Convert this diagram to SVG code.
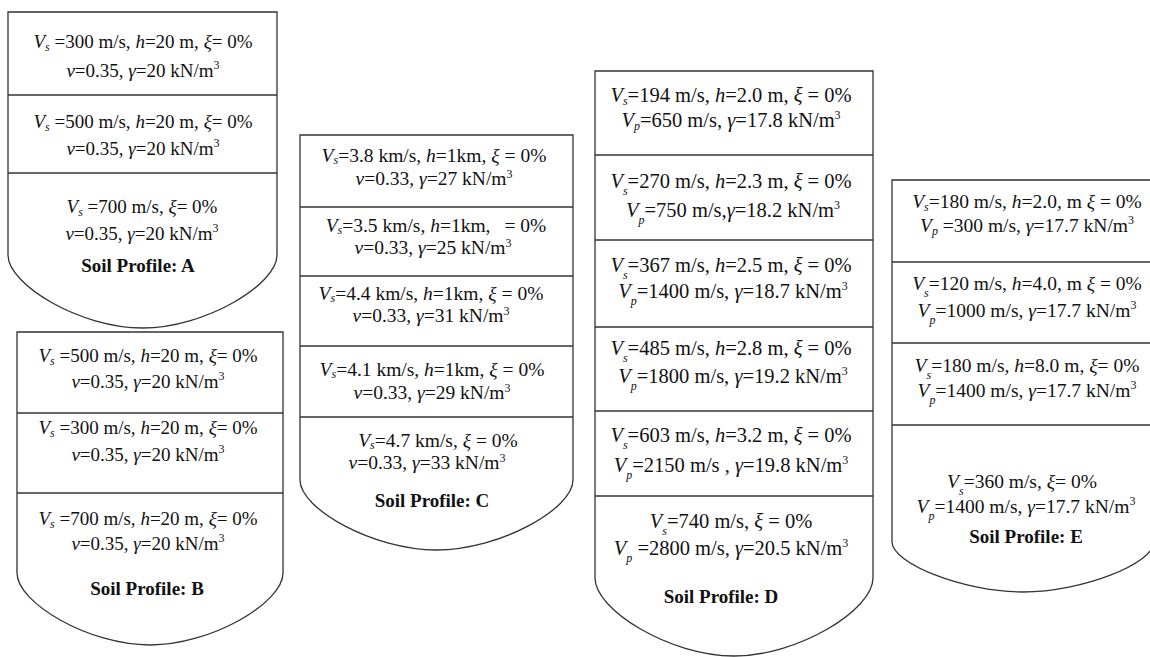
<svg xmlns="http://www.w3.org/2000/svg" width="1150" height="657" viewBox="0 0 1150 657">
<style>
.t{font-family:"Liberation Serif","Times New Roman",serif;fill:#111;text-anchor:middle}
.a{font-size:19px}.c{font-size:19.5px}.d{font-size:20.5px}.e{font-size:19.5px}
.i{font-style:italic}
.sb{font-size:12px;font-style:italic}
.sp{font-size:12px}
.lb{font-weight:bold;font-size:19px}
.box{fill:#fff;stroke:#333;stroke-width:1.3}
.dv{stroke:#333;stroke-width:1.3;fill:none}
</style>
<rect width="1150" height="657" fill="#fff"/>
<g id="connectors"/>

<g id="profile-A">
<path class="box" d="M8,12 L277,12 L277,255 C277,285 204.5,328 142.5,328 C80.5,328 8,285 8,255 Z"/>
<line class="dv" x1="8" y1="95" x2="277" y2="95"/>
<line class="dv" x1="8" y1="173" x2="277" y2="173"/>
<g id="A-layer1">
<text class="t a" x="143" y="48"><tspan class="i">V</tspan><tspan class="sb" dy="3">s</tspan><tspan dy="-3"> =300 m/s, </tspan><tspan class="i">h</tspan>=20 m, <tspan class="i">ξ</tspan>= 0%</text>
<text class="t a" x="143" y="77"><tspan class="i">ν</tspan>=0.35, <tspan class="i">γ</tspan>=20 kN/m<tspan class="sp" dy="-8">3</tspan></text>
</g>
<g id="A-layer2">
<text class="t a" x="143" y="128"><tspan class="i">V</tspan><tspan class="sb" dy="3">s</tspan><tspan dy="-3"> =500 m/s, </tspan><tspan class="i">h</tspan>=20 m, <tspan class="i">ξ</tspan>= 0%</text>
<text class="t a" x="143" y="155"><tspan class="i">ν</tspan>=0.35, <tspan class="i">γ</tspan>=20 kN/m<tspan class="sp" dy="-8">3</tspan></text>
</g>
<g id="A-layer3">
<text class="t a" x="142" y="213"><tspan class="i">V</tspan><tspan class="sb" dy="3">s</tspan><tspan dy="-3"> =700 m/s, </tspan><tspan class="i">ξ</tspan>= 0%</text>
<text class="t a" x="142" y="240"><tspan class="i">ν</tspan>=0.35, <tspan class="i">γ</tspan>=20 kN/m<tspan class="sp" dy="-8">3</tspan></text>
<text class="t lb" x="138" y="272">Soil Profile: A</text>
</g>
</g>

<g id="profile-B">
<path class="box" d="M17,332 L283,332 L283,573 C283,603 211,645 150,645 C89,645 17,603 17,573 Z"/>
<line class="dv" x1="17" y1="413" x2="283" y2="413"/>
<line class="dv" x1="17" y1="493" x2="283" y2="493"/>
<g id="B-layer1">
<text class="t a" x="148" y="362"><tspan class="i">V</tspan><tspan class="sb" dy="3">s</tspan><tspan dy="-3"> =500 m/s, </tspan><tspan class="i">h</tspan>=20 m, <tspan class="i">ξ</tspan>= 0%</text>
<text class="t a" x="148" y="388"><tspan class="i">ν</tspan>=0.35, <tspan class="i">γ</tspan>=20 kN/m<tspan class="sp" dy="-8">3</tspan></text>
</g>
<g id="B-layer2">
<text class="t a" x="148" y="434"><tspan class="i">V</tspan><tspan class="sb" dy="3">s</tspan><tspan dy="-3"> =300 m/s, </tspan><tspan class="i">h</tspan>=20 m, <tspan class="i">ξ</tspan>= 0%</text>
<text class="t a" x="148" y="461"><tspan class="i">ν</tspan>=0.35, <tspan class="i">γ</tspan>=20 kN/m<tspan class="sp" dy="-8">3</tspan></text>
</g>
<g id="B-layer3">
<text class="t a" x="148" y="525"><tspan class="i">V</tspan><tspan class="sb" dy="3">s</tspan><tspan dy="-3"> =700 m/s, </tspan><tspan class="i">h</tspan>=20 m, <tspan class="i">ξ</tspan>= 0%</text>
<text class="t a" x="148" y="550"><tspan class="i">ν</tspan>=0.35, <tspan class="i">γ</tspan>=20 kN/m<tspan class="sp" dy="-8">3</tspan></text>
<text class="t lb" x="147" y="595">Soil Profile: B</text>
</g>
</g>

<g id="profile-C">
<path class="box" d="M300,135 L573,135 L573,480 C573,509 499.5,550 436.5,550 C373.5,550 300,509 300,480 Z"/>
<line class="dv" x1="300" y1="207" x2="573" y2="207"/>
<line class="dv" x1="300" y1="276" x2="573" y2="276"/>
<line class="dv" x1="300" y1="346" x2="573" y2="346"/>
<line class="dv" x1="300" y1="417" x2="525" y2="417" stroke="#888"/>
<line class="dv" x1="525" y1="417" x2="573" y2="417"/>
<g id="C-layer1">
<text class="t c" x="434" y="162"><tspan class="i">V</tspan><tspan class="sb" dy="2">s</tspan><tspan dy="-2">=3.8 km/s, </tspan><tspan class="i">h</tspan>=1km, <tspan class="i">ξ</tspan> = 0%</text>
<text class="t c" x="434" y="185"><tspan class="i">ν</tspan>=0.33, <tspan class="i">γ</tspan>=27 kN/m<tspan class="sp" dy="-7">3</tspan></text>
</g>
<g id="C-layer2">
<text class="t c" x="436" y="232"><tspan class="i">V</tspan><tspan class="sb" dy="2">s</tspan><tspan dy="-2">=3.5 km/s, </tspan><tspan class="i">h</tspan>=1km,<tspan dx="14">= 0%</tspan></text>
<text class="t c" x="433" y="254"><tspan class="i">ν</tspan>=0.33, <tspan class="i">γ</tspan>=25 kN/m<tspan class="sp" dy="-7">3</tspan></text>
</g>
<g id="C-layer3">
<text class="t c" x="431" y="300"><tspan class="i">V</tspan><tspan class="sb" dy="2">s</tspan><tspan dy="-2">=4.4 km/s, </tspan><tspan class="i">h</tspan>=1km, <tspan class="i">ξ</tspan> = 0%</text>
<text class="t c" x="431" y="322"><tspan class="i">ν</tspan>=0.33, <tspan class="i">γ</tspan>=31 kN/m<tspan class="sp" dy="-7">3</tspan></text>
</g>
<g id="C-layer4">
<text class="t c" x="432" y="376"><tspan class="i">V</tspan><tspan class="sb" dy="2">s</tspan><tspan dy="-2">=4.1 km/s, </tspan><tspan class="i">h</tspan>=1km, <tspan class="i">ξ</tspan> = 0%</text>
<text class="t c" x="432" y="399"><tspan class="i">ν</tspan>=0.33, <tspan class="i">γ</tspan>=29 kN/m<tspan class="sp" dy="-7">3</tspan></text>
</g>
<g id="C-layer5">
<text class="t c" x="438" y="447"><tspan class="i">V</tspan><tspan class="sb" dy="2">s</tspan><tspan dy="-2">=4.7 km/s, </tspan><tspan class="i">ξ</tspan> = 0%</text>
<text class="t c" x="427" y="469"><tspan class="i">ν</tspan>=0.33, <tspan class="i">γ</tspan>=33 kN/m<tspan class="sp" dy="-7">3</tspan></text>
<text class="t lb" x="432" y="507">Soil Profile: C</text>
</g>
</g>

<g id="profile-D">
<path class="box" d="M595,71 L873,71 L873,578 C873,610 798,656 734,656 C670,656 595,610 595,578 Z"/>
<line class="dv" x1="595" y1="155" x2="873" y2="155"/>
<line class="dv" x1="595" y1="240" x2="873" y2="240"/>
<line class="dv" x1="595" y1="327" x2="873" y2="327"/>
<line class="dv" x1="595" y1="411" x2="873" y2="411"/>
<line class="dv" x1="595" y1="496" x2="873" y2="496"/>
<g id="D-layer1">
<text class="t d" x="731" y="102"><tspan class="i">V</tspan><tspan class="sb" dy="3">s</tspan><tspan dy="-3">=194 m/s, </tspan><tspan class="i">h</tspan>=2.0 m, <tspan class="i">ξ</tspan> = 0%</text>
<text class="t d" x="731" y="127"><tspan class="i">V</tspan><tspan class="sb" dy="3">p</tspan><tspan dy="-3">=650 m/s, </tspan><tspan class="i">γ</tspan>=17.8 kN/m<tspan class="sp" dy="-8">3</tspan></text>
</g>
<g id="D-layer2">
<text class="t d" x="731" y="188"><tspan class="i">V</tspan><tspan class="sb" dy="7">s</tspan><tspan dy="-7">=270 m/s, </tspan><tspan class="i">h</tspan>=2.3 m, <tspan class="i">ξ</tspan> = 0%</text>
<text class="t d" x="733" y="217"><tspan class="i">V</tspan><tspan class="sb" dy="7">p</tspan><tspan dy="-7">=750 m/s,</tspan><tspan class="i">γ</tspan>=18.2 kN/m<tspan class="sp" dy="-8">3</tspan></text>
</g>
<g id="D-layer3">
<text class="t d" x="731" y="272"><tspan class="i">V</tspan><tspan class="sb" dy="7">s</tspan><tspan dy="-7">=367 m/s, </tspan><tspan class="i">h</tspan>=2.5 m, <tspan class="i">ξ</tspan> = 0%</text>
<text class="t d" x="733" y="298"><tspan class="i">V</tspan><tspan class="sb" dy="7">p</tspan><tspan dy="-7">=1400 m/s, </tspan><tspan class="i">γ</tspan>=18.7 kN/m<tspan class="sp" dy="-8">3</tspan></text>
</g>
<g id="D-layer4">
<text class="t d" x="731" y="355"><tspan class="i">V</tspan><tspan class="sb" dy="7">s</tspan><tspan dy="-7">=485 m/s, </tspan><tspan class="i">h</tspan>=2.8 m, <tspan class="i">ξ</tspan> = 0%</text>
<text class="t d" x="733" y="383"><tspan class="i">V</tspan><tspan class="sb" dy="7">p</tspan><tspan dy="-7">=1800 m/s, </tspan><tspan class="i">γ</tspan>=19.2 kN/m<tspan class="sp" dy="-8">3</tspan></text>
</g>
<g id="D-layer5">
<text class="t d" x="731" y="442"><tspan class="i">V</tspan><tspan class="sb" dy="7">s</tspan><tspan dy="-7">=603 m/s, </tspan><tspan class="i">h</tspan>=3.2 m, <tspan class="i">ξ</tspan> = 0%</text>
<text class="t d" x="731" y="472"><tspan class="i">V</tspan><tspan class="sb" dy="7">p</tspan><tspan dy="-7">=2150 m/s , </tspan><tspan class="i">γ</tspan>=19.8 kN/m<tspan class="sp" dy="-8">3</tspan></text>
</g>
<g id="D-layer6">
<text class="t d" x="731" y="528"><tspan class="i">V</tspan><tspan class="sb" dy="7">s</tspan><tspan dy="-7">=740 m/s, </tspan><tspan class="i">ξ</tspan> = 0%</text>
<text class="t d" x="731" y="555"><tspan class="i">V</tspan><tspan class="sb" dy="7">p</tspan><tspan dy="-7"> =2800 m/s, </tspan><tspan class="i">γ</tspan>=20.5 kN/m<tspan class="sp" dy="-8">3</tspan></text>
<text class="t lb" x="721" y="603">Soil Profile: D</text>
</g>
</g>

<g id="profile-E">
<path class="box" d="M892,180 L1154,180 L1154,542 C1154,563 1083,592 1023,592 C963,592 892,563 892,542 Z"/>
<line class="dv" x1="892" y1="262" x2="1154" y2="262"/>
<line class="dv" x1="892" y1="343" x2="1154" y2="343"/>
<line class="dv" x1="892" y1="425" x2="1154" y2="425"/>
<g id="E-layer1">
<text class="t e" x="1027" y="208"><tspan class="i">V</tspan><tspan class="sb" dy="3">s</tspan><tspan dy="-3">=180 m/s, </tspan><tspan class="i">h</tspan>=2.0, m <tspan class="i">ξ</tspan> = 0%</text>
<text class="t e" x="1027" y="232"><tspan class="i">V</tspan><tspan class="sb" dy="3">p</tspan><tspan dy="-3"> =300 m/s, </tspan><tspan class="i">γ</tspan>=17.7 kN/m<tspan class="sp" dy="-8">3</tspan></text>
</g>
<g id="E-layer2">
<text class="t e" x="1027" y="290"><tspan class="i">V</tspan><tspan class="sb" dy="7">s</tspan><tspan dy="-7">=120 m/s, </tspan><tspan class="i">h</tspan>=4.0, m <tspan class="i">ξ</tspan> = 0%</text>
<text class="t e" x="1027" y="317"><tspan class="i">V</tspan><tspan class="sb" dy="7">p</tspan><tspan dy="-7">=1000 m/s, </tspan><tspan class="i">γ</tspan>=17.7 kN/m<tspan class="sp" dy="-8">3</tspan></text>
</g>
<g id="E-layer3">
<text class="t e" x="1027" y="372"><tspan class="i">V</tspan><tspan class="sb" dy="7">s</tspan><tspan dy="-7">=180 m/s, </tspan><tspan class="i">h</tspan>=8.0 m, <tspan class="i">ξ</tspan>= 0%</text>
<text class="t e" x="1027" y="397"><tspan class="i">V</tspan><tspan class="sb" dy="7">p</tspan><tspan dy="-7">=1400 m/s, </tspan><tspan class="i">γ</tspan>=17.7 kN/m<tspan class="sp" dy="-8">3</tspan></text>
</g>
<g id="E-layer4">
<text class="t e" x="1022" y="488"><tspan class="i">V</tspan><tspan class="sb" dy="7">s</tspan><tspan dy="-7">=360 m/s, </tspan><tspan class="i">ξ</tspan>= 0%</text>
<text class="t e" x="1026" y="513"><tspan class="i">V</tspan><tspan class="sb" dy="7">p</tspan><tspan dy="-7">=1400 m/s, </tspan><tspan class="i">γ</tspan>=17.7 kN/m<tspan class="sp" dy="-8">3</tspan></text>
<text class="t lb" x="1026" y="543">Soil Profile: E</text>
</g>
</g>
</svg>
